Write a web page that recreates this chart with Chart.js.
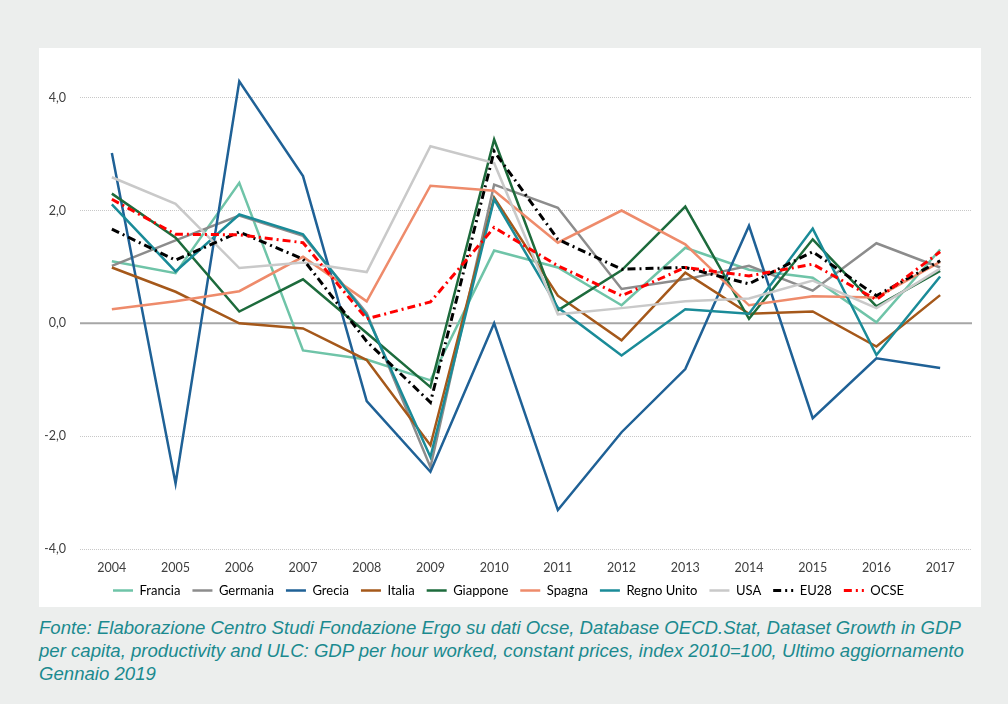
<!DOCTYPE html>
<html>
<head>
<meta charset="utf-8">
<script src="https://cdn.jsdelivr.net/npm/chart.js@4/dist/chart.umd.min.js"></script>
<style>
  html, body { margin: 0; padding: 0; }
  body { width: 1008px; height: 704px; background: #eceeed; position: relative; overflow: hidden; }
  #panel { position: absolute; left: 39px; top: 48px; width: 942px; height: 559px; background: #fff; }
  #caption {
    position: absolute; left: 39px; top: 616px; width: 969px;
    font-family: "Liberation Sans", Arial, sans-serif; font-style: italic;
    font-size: 18.6px; line-height: 23px; color: #1b8a8f; white-space: nowrap;
  }
</style>
</head>
<body>
<div id="panel"><canvas id="chart" width="942" height="559"></canvas></div>
<div id="caption">Fonte: Elaborazione Centro Studi Fondazione Ergo su dati Ocse, Database OECD.Stat, Dataset Growth in GDP<br>per capita, productivity and ULC: GDP per hour worked, constant prices, index 2010=100, Ultimo aggiornamento<br>Gennaio 2019</div>
<script>
const years = ["2004", "2005", "2006", "2007", "2008", "2009", "2010", "2011", "2012", "2013", "2014", "2015", "2016", "2017"];
const yTicks = [-4, -2, 0, 2, 4];

const francia    = [1.10, 0.89, 2.49, -0.48, -0.64, -1.01, 1.29, 0.99, 0.32, 1.34, 0.95, 0.81, 0.02, 1.31];
const germania   = [1.02, 1.47, 1.91, 1.55, 0.18, -2.55, 2.46, 2.05, 0.61, 0.78, 1.02, 0.58, 1.42, 0.99];
const grecia     = [3.02, -2.84, 4.29, 2.61, -1.38, -2.63, 0.00, -3.31, -1.93, -0.81, 1.73, -1.68, -0.62, -0.79];
const italia     = [0.99, 0.56, 0.00, -0.09, -0.65, -2.16, 2.23, 0.49, -0.30, 0.90, 0.17, 0.21, -0.41, 0.50];
const giappone   = [2.30, 1.52, 0.21, 0.78, -0.17, -1.13, 3.26, 0.23, 0.94, 2.07, 0.08, 1.49, 0.30, 0.93];
const spagna     = [0.25, 0.39, 0.57, 1.18, 0.39, 2.44, 2.35, 1.43, 2.00, 1.40, 0.32, 0.48, 0.46, 1.09];
const regnoUnito = [2.11, 0.92, 1.93, 1.58, 0.14, -2.37, 2.20, 0.28, -0.57, 0.25, 0.17, 1.68, -0.56, 0.83];
const usa        = [2.59, 2.12, 0.98, 1.08, 0.91, 3.14, 2.84, 0.16, 0.27, 0.39, 0.44, 0.76, 0.27, 0.97];
const eu28       = [1.67, 1.12, 1.62, 1.14, -0.32, -1.40, 3.05, 1.49, 0.96, 0.99, 0.70, 1.27, 0.49, 1.11];
const ocse       = [2.20, 1.58, 1.57, 1.43, 0.08, 0.38, 1.70, 1.02, 0.49, 0.99, 0.84, 1.05, 0.42, 1.27];

const FONT = "Lato, 'Open Sans', sans-serif";
const dashDot = [8, 4, 2, 4];

function line(label, data, color, dash) {
  return {
    label: label,
    data: data,
    borderColor: color,
    backgroundColor: color,
    borderWidth: dash ? 3 : 2.5,
    borderDash: dash || [],
    pointRadius: 0,
    tension: 0,
    fill: false
  };
}

const datasets = [
  line("Francia", francia, "#6fc4a8"),
  line("Germania", germania, "#8c8c8c"),
  line("Grecia", grecia, "#1f6196"),
  line("Italia", italia, "#a5581a"),
  line("Giappone", giappone, "#1d6b3c"),
  line("Spagna", spagna, "#ee8b6b"),
  line("Regno Unito", regnoUnito, "#1a8b98"),
  line("USA", usa, "#c9c9c9"),
  line("EU28", eu28, "#000000", dashDot),
  line("OCSE", ocse, "#ff0000", dashDot)
];
// later series on top, like the original
datasets.forEach((d, i) => { d.order = -i; });

// solid zero line
const zeroLine = {
  id: "zeroLine",
  beforeDatasetsDraw(chart) {
    const y = chart.scales.y.getPixelForValue(0);
    const a = chart.chartArea;
    const ctx = chart.ctx;
    ctx.save();
    ctx.strokeStyle = "#a6a6a6";
    ctx.lineWidth = 2;
    ctx.beginPath();
    ctx.moveTo(a.left, y);
    ctx.lineTo(a.right, y);
    ctx.stroke();
    ctx.restore();
  }
};

new Chart(document.getElementById("chart"), {
  type: "line",
  data: { labels: years, datasets: datasets },
  plugins: [zeroLine],
  options: {
    responsive: false,
    animation: false,
    layout: { padding: { top: 17, right: 9, left: 6, bottom: 0 } },
    scales: {
      x: {
        offset: true,
        grid: { display: false, drawTicks: false },
        border: { display: false },
        ticks: { color: "#404040", font: { family: FONT, size: 12.5 }, padding: 11, maxRotation: 0 },
        afterFit: (s) => { s.height = 23; }
      },
      y: {
        min: -4,
        max: 4.5,
        afterBuildTicks: (s) => { s.ticks = yTicks.map(v => ({ value: v })); },
        afterFit: (s) => { s.width = 35; },
        grid: {
          drawTicks: false,
          color: (ctx) => ctx.tick && ctx.tick.value === 0 ? "rgba(0,0,0,0)" : "#c8c8c8",
          lineWidth: 1
        },
        border: { display: false, dash: [1, 1] },
        ticks: {
          color: "#404040",
          font: { family: FONT, size: 12.5 },
          padding: 14,
          callback: (v) => v.toFixed(1).replace(".", ",")
        }
      }
    },
    plugins: {
      tooltip: { enabled: false },
      legend: {
        position: "bottom",
        labels: {
          color: "#404040",
          font: { family: FONT, size: 13 },
          usePointStyle: true,
          pointStyleWidth: 20,
          boxHeight: 13,
          padding: 12,
          generateLabels: (chart) => chart.data.datasets.map((d, i) => ({
            text: d.label,
            fillStyle: d.borderColor,
            strokeStyle: d.borderColor,
            lineWidth: d.borderDash.length ? 3 : 2.5,
            lineDash: d.borderDash,
            pointStyle: "line",
            hidden: false,
            datasetIndex: i
          }))
        }
      }
    }
  }
});
</script>
</body>
</html>
